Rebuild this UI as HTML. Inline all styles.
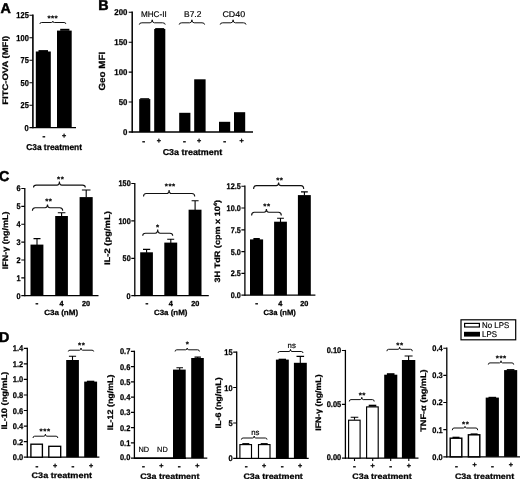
<!DOCTYPE html>
<html><head><meta charset="utf-8"><title>Figure</title>
<style>
html,body{margin:0;padding:0;background:#fff}
svg{display:block;font-family:"Liberation Sans",sans-serif;text-rendering:geometricPrecision}
</style></head><body>
<svg width="520" height="479" viewBox="0 0 520 479">
<rect width="520" height="479" fill="#fff"/>
<text x="0.5" y="12.6" font-size="14.3" font-weight="bold" stroke="#000" stroke-width="0.5">A</text>
<text x="98.3" y="10.3" font-size="14.3" font-weight="bold" stroke="#000" stroke-width="0.5">B</text>
<text x="-1.1" y="181.4" font-size="14.3" font-weight="bold" stroke="#000" stroke-width="0.5">C</text>
<text x="-0.9" y="342.0" font-size="14.3" font-weight="bold" stroke="#000" stroke-width="0.5">D</text>
<path d="M32.9,14.6V128.3" stroke="#000" stroke-width="1.6" fill="none"/>
<path d="M29.4,127.7H76.0" stroke="#000" stroke-width="1.3" fill="none"/>
<text x="28.8" y="130.8" font-size="8.6" text-anchor="end" font-weight="bold" stroke="#000" stroke-width="0.25" textLength="4.2" lengthAdjust="spacingAndGlyphs" fill="#000">0</text>
<text x="28.8" y="108.3" font-size="8.6" text-anchor="end" font-weight="bold" stroke="#000" stroke-width="0.25" textLength="8.3" lengthAdjust="spacingAndGlyphs" fill="#000">25</text>
<text x="28.8" y="85.8" font-size="8.6" text-anchor="end" font-weight="bold" stroke="#000" stroke-width="0.25" textLength="8.3" lengthAdjust="spacingAndGlyphs" fill="#000">50</text>
<text x="28.8" y="63.3" font-size="8.6" text-anchor="end" font-weight="bold" stroke="#000" stroke-width="0.25" textLength="8.3" lengthAdjust="spacingAndGlyphs" fill="#000">75</text>
<text x="28.8" y="40.8" font-size="8.6" text-anchor="end" font-weight="bold" stroke="#000" stroke-width="0.25" textLength="12.5" lengthAdjust="spacingAndGlyphs" fill="#000">100</text>
<text x="28.8" y="18.3" font-size="8.6" text-anchor="end" font-weight="bold" stroke="#000" stroke-width="0.25" textLength="12.5" lengthAdjust="spacingAndGlyphs" fill="#000">125</text>
<path d="M29.4,105.2H32.9M29.4,82.7H32.9M29.4,60.2H32.9M29.4,37.7H32.9M29.4,15.2H32.9" stroke="#000" stroke-width="1.15" fill="none"/>
<rect x="35.8" y="51.5" width="15.0" height="76.2" fill="#000"/>
<rect x="38.5" y="50.1" width="9.5" height="2.0" fill="#000"/>
<rect x="57.0" y="30.6" width="14.7" height="97.1" fill="#000"/>
<rect x="60.2" y="28.8" width="9.2" height="2.0" fill="#000"/>
<path d="M39.9,23.9Q39.9,22.5 41.6,22.5H51.3Q52.8,22.5 52.8,21.2Q52.8,22.5 54.3,22.5H64.1Q65.8,22.5 65.8,23.9" stroke="#111" stroke-width="1.0" fill="none"/>
<text x="52.8" y="20.8" font-size="8" text-anchor="middle" font-weight="bold" letter-spacing="0.35" stroke="#000" stroke-width="0.15">***</text>
<text x="44.0" y="139.2" font-size="8.6" text-anchor="middle" font-weight="bold" stroke="#000" stroke-width="0.3">-</text>
<text x="64.2" y="138.3" font-size="7.2" text-anchor="middle" font-weight="bold" stroke="#000" stroke-width="0.3">+</text>
<text x="54.1" y="149.6" font-size="8.5" text-anchor="middle" font-weight="bold" stroke="#000" stroke-width="0.25" textLength="55.8" lengthAdjust="spacingAndGlyphs" fill="#000">C3a treatment</text>
<text transform="translate(8.1,70.3) rotate(-90)" font-size="8.0" text-anchor="middle" font-weight="bold" stroke="#000" stroke-width="0.25" textLength="69.0" lengthAdjust="spacingAndGlyphs">FITC-OVA (MFI)</text>
<path d="M132.2,11.6V132.7" stroke="#000" stroke-width="1.5" fill="none"/>
<path d="M128.7,132.0H253.0" stroke="#000" stroke-width="1.3" fill="none"/>
<text x="127.4" y="135.0" font-size="8.4" text-anchor="end" font-weight="bold" stroke="#000" stroke-width="0.25" textLength="4.4" lengthAdjust="spacingAndGlyphs" fill="#000">0</text>
<text x="127.4" y="105.1" font-size="8.4" text-anchor="end" font-weight="bold" stroke="#000" stroke-width="0.25" textLength="8.7" lengthAdjust="spacingAndGlyphs" fill="#000">50</text>
<text x="127.4" y="75.1" font-size="8.4" text-anchor="end" font-weight="bold" stroke="#000" stroke-width="0.25" textLength="13.1" lengthAdjust="spacingAndGlyphs" fill="#000">100</text>
<text x="127.4" y="45.2" font-size="8.4" text-anchor="end" font-weight="bold" stroke="#000" stroke-width="0.25" textLength="13.1" lengthAdjust="spacingAndGlyphs" fill="#000">150</text>
<text x="127.4" y="15.2" font-size="8.4" text-anchor="end" font-weight="bold" stroke="#000" stroke-width="0.25" textLength="13.1" lengthAdjust="spacingAndGlyphs" fill="#000">200</text>
<path d="M128.7,102.0H132.2M128.7,72.1H132.2M128.7,42.2H132.2M128.7,12.2H132.2" stroke="#000" stroke-width="1.15" fill="none"/>
<rect x="139.2" y="99.1" width="11.1" height="32.9" fill="#000"/>
<rect x="154.2" y="29.0" width="11.1" height="103.0" fill="#000"/>
<rect x="179.2" y="112.8" width="11.2" height="19.2" fill="#000"/>
<rect x="194.2" y="79.3" width="11.4" height="52.7" fill="#000"/>
<rect x="219.0" y="121.8" width="11.2" height="10.2" fill="#000"/>
<rect x="234.0" y="112.2" width="11.2" height="19.8" fill="#000"/>
<rect x="155.2" y="28.1" width="9.0" height="1.5" fill="#000"/>
<rect x="140.2" y="98.2" width="9.0" height="1.1" fill="#000"/>
<path d="M139.3,24.6Q139.3,22.8 141.9,22.8H150.1Q152.2,22.8 152.2,19.8Q152.2,22.8 154.4,22.8H162.6Q165.2,22.8 165.2,24.6" stroke="#111" stroke-width="1.0" fill="none"/>
<text x="153.8" y="16.9" font-size="8.4" text-anchor="middle" stroke="#000" stroke-width="0.18" textLength="25.7" lengthAdjust="spacingAndGlyphs" fill="#000">MHC-II</text>
<path d="M179.2,24.6Q179.2,22.8 181.8,22.8H189.7Q191.9,22.8 191.9,19.8Q191.9,22.8 194.1,22.8H202.0Q204.6,22.8 204.6,24.6" stroke="#111" stroke-width="1.0" fill="none"/>
<text x="192.7" y="16.9" font-size="8.4" text-anchor="middle" stroke="#000" stroke-width="0.18" textLength="17.3" lengthAdjust="spacingAndGlyphs" fill="#000">B7.2</text>
<path d="M220.2,24.6Q220.2,22.8 222.8,22.8H230.9Q233.1,22.8 233.1,19.8Q233.1,22.8 235.3,22.8H243.4Q246.0,22.8 246.0,24.6" stroke="#111" stroke-width="1.0" fill="none"/>
<text x="233.8" y="16.9" font-size="8.4" text-anchor="middle" stroke="#000" stroke-width="0.18" textLength="22.7" lengthAdjust="spacingAndGlyphs" fill="#000">CD40</text>
<text x="143.8" y="143.5" font-size="8.6" text-anchor="middle" font-weight="bold" stroke="#000" stroke-width="0.3">-</text>
<text x="158.8" y="142.6" font-size="7.2" text-anchor="middle" font-weight="bold" stroke="#000" stroke-width="0.3">+</text>
<text x="184.4" y="143.5" font-size="8.6" text-anchor="middle" font-weight="bold" stroke="#000" stroke-width="0.3">-</text>
<text x="199.0" y="142.6" font-size="7.2" text-anchor="middle" font-weight="bold" stroke="#000" stroke-width="0.3">+</text>
<text x="224.8" y="143.5" font-size="8.6" text-anchor="middle" font-weight="bold" stroke="#000" stroke-width="0.3">-</text>
<text x="241.5" y="142.6" font-size="7.2" text-anchor="middle" font-weight="bold" stroke="#000" stroke-width="0.3">+</text>
<text x="192.4" y="155.0" font-size="8.6" text-anchor="middle" font-weight="bold" stroke="#000" stroke-width="0.25" textLength="59.5" lengthAdjust="spacingAndGlyphs" fill="#000">C3a treatment</text>
<text transform="translate(105.2,71.2) rotate(-90)" font-size="8.9" text-anchor="middle" font-weight="bold" stroke="#000" stroke-width="0.25" textLength="38.7" lengthAdjust="spacingAndGlyphs">Geo MFI</text>
<path d="M24.8,187.9V296.3" stroke="#000" stroke-width="1.3" fill="none"/>
<path d="M21.3,295.7H98.5" stroke="#000" stroke-width="1.3" fill="none"/>
<text x="20.7" y="298.6" font-size="8.2" text-anchor="end" font-weight="bold" stroke="#000" stroke-width="0.25" textLength="4.1" lengthAdjust="spacingAndGlyphs" fill="#000">0</text>
<text x="20.7" y="280.8" font-size="8.2" text-anchor="end" font-weight="bold" stroke="#000" stroke-width="0.25" textLength="4.1" lengthAdjust="spacingAndGlyphs" fill="#000">1</text>
<text x="20.7" y="262.9" font-size="8.2" text-anchor="end" font-weight="bold" stroke="#000" stroke-width="0.25" textLength="4.1" lengthAdjust="spacingAndGlyphs" fill="#000">2</text>
<text x="20.7" y="245.0" font-size="8.2" text-anchor="end" font-weight="bold" stroke="#000" stroke-width="0.25" textLength="4.1" lengthAdjust="spacingAndGlyphs" fill="#000">3</text>
<text x="20.7" y="227.2" font-size="8.2" text-anchor="end" font-weight="bold" stroke="#000" stroke-width="0.25" textLength="4.1" lengthAdjust="spacingAndGlyphs" fill="#000">4</text>
<text x="20.7" y="209.3" font-size="8.2" text-anchor="end" font-weight="bold" stroke="#000" stroke-width="0.25" textLength="4.1" lengthAdjust="spacingAndGlyphs" fill="#000">5</text>
<text x="20.7" y="191.4" font-size="8.2" text-anchor="end" font-weight="bold" stroke="#000" stroke-width="0.25" textLength="4.1" lengthAdjust="spacingAndGlyphs" fill="#000">6</text>
<path d="M21.3,277.8H24.8M21.3,260.0H24.8M21.3,242.1H24.8M21.3,224.2H24.8M21.3,206.4H24.8M21.3,188.5H24.8" stroke="#000" stroke-width="1.15" fill="none"/>
<rect x="30.5" y="244.6" width="12.9" height="51.1" fill="#000"/>
<path d="M37.0,245.1V238.6M33.5,238.6H40.5" stroke="#000" stroke-width="1.1" fill="none"/>
<rect x="55.2" y="216.0" width="12.7" height="79.7" fill="#000"/>
<path d="M61.6,216.5V212.7M57.8,212.7H65.4" stroke="#000" stroke-width="1.1" fill="none"/>
<rect x="79.6" y="197.1" width="13.1" height="98.6" fill="#000"/>
<path d="M86.2,197.6V190.0M81.9,190.0H90.5" stroke="#000" stroke-width="1.1" fill="none"/>
<path d="M33.5,187.4Q33.5,185.1 36.3,185.1H57.0Q59.4,185.1 59.4,181.5Q59.4,185.1 61.8,185.1H82.5Q85.3,185.1 85.3,187.4" stroke="#111" stroke-width="1.1" fill="none"/>
<text x="60.7" y="181.9" font-size="8" text-anchor="middle" font-weight="bold" letter-spacing="0.55" stroke="#000" stroke-width="0.15">**</text>
<path d="M32.4,210.8Q32.4,207.7 35.2,207.7H45.1Q47.5,207.7 47.5,204.6Q47.5,207.7 49.9,207.7H59.9Q62.7,207.7 62.7,210.8" stroke="#111" stroke-width="1.1" fill="none"/>
<text x="48.8" y="204.2" font-size="8" text-anchor="middle" font-weight="bold" letter-spacing="0.55" stroke="#000" stroke-width="0.15">**</text>
<text x="37.0" y="306.1" font-size="8.6" text-anchor="middle" font-weight="bold" stroke="#000" stroke-width="0.3">-</text>
<text x="61.5" y="306.3" font-size="7.3" text-anchor="middle" font-weight="bold" stroke="#000" stroke-width="0.3" fill="#000">4</text>
<text x="86.0" y="306.3" font-size="7.3" text-anchor="middle" font-weight="bold" stroke="#000" stroke-width="0.3" fill="#000">20</text>
<text x="61.2" y="314.8" font-size="7.5" text-anchor="middle" font-weight="bold" stroke="#000" stroke-width="0.25" textLength="34.0" lengthAdjust="spacingAndGlyphs" fill="#000">C3a (nM)</text>
<text transform="translate(7.9,240.4) rotate(-90)" font-size="8.0" text-anchor="middle" font-weight="bold" stroke="#000" stroke-width="0.25" textLength="57.7" lengthAdjust="spacingAndGlyphs">IFN-γ (ng/mL)</text>
<path d="M134.8,182.9V296.3" stroke="#000" stroke-width="1.3" fill="none"/>
<path d="M131.3,295.7H208.8" stroke="#000" stroke-width="1.3" fill="none"/>
<text x="130.7" y="298.6" font-size="8.2" text-anchor="end" font-weight="bold" stroke="#000" stroke-width="0.25" textLength="4.1" lengthAdjust="spacingAndGlyphs" fill="#000">0</text>
<text x="130.7" y="261.2" font-size="8.2" text-anchor="end" font-weight="bold" stroke="#000" stroke-width="0.25" textLength="8.1" lengthAdjust="spacingAndGlyphs" fill="#000">50</text>
<text x="130.7" y="223.8" font-size="8.2" text-anchor="end" font-weight="bold" stroke="#000" stroke-width="0.25" textLength="12.2" lengthAdjust="spacingAndGlyphs" fill="#000">100</text>
<text x="130.7" y="186.4" font-size="8.2" text-anchor="end" font-weight="bold" stroke="#000" stroke-width="0.25" textLength="12.2" lengthAdjust="spacingAndGlyphs" fill="#000">150</text>
<path d="M131.3,258.3H134.8M131.3,220.9H134.8M131.3,183.5H134.8" stroke="#000" stroke-width="1.15" fill="none"/>
<rect x="140.2" y="252.3" width="12.7" height="43.4" fill="#000"/>
<path d="M146.6,252.8V249.4M143.0,249.4H150.2" stroke="#000" stroke-width="1.1" fill="none"/>
<rect x="164.3" y="242.6" width="12.9" height="53.1" fill="#000"/>
<path d="M170.8,243.1V239.2M167.2,239.2H174.2" stroke="#000" stroke-width="1.1" fill="none"/>
<rect x="188.6" y="209.7" width="12.9" height="86.0" fill="#000"/>
<path d="M195.1,210.2V200.8M191.6,200.8H198.6" stroke="#000" stroke-width="1.1" fill="none"/>
<path d="M143.5,196.5Q143.5,193.5 146.3,193.5H166.7Q169.1,193.5 169.1,189.9Q169.1,193.5 171.5,193.5H191.9Q194.7,193.5 194.7,196.5" stroke="#111" stroke-width="1.1" fill="none"/>
<text x="170.3" y="189.2" font-size="8" text-anchor="middle" font-weight="bold" letter-spacing="0.55" stroke="#000" stroke-width="0.15">***</text>
<path d="M142.7,235.8Q142.7,233.2 145.5,233.2H155.3Q157.7,233.2 157.7,229.6Q157.7,233.2 160.1,233.2H169.9Q172.7,233.2 172.7,235.8" stroke="#111" stroke-width="1.1" fill="none"/>
<text x="157.9" y="229.9" font-size="8" text-anchor="middle" font-weight="bold" letter-spacing="0.55" stroke="#000" stroke-width="0.15">*</text>
<text x="147.0" y="306.1" font-size="8.6" text-anchor="middle" font-weight="bold" stroke="#000" stroke-width="0.3">-</text>
<text x="170.9" y="306.3" font-size="7.3" text-anchor="middle" font-weight="bold" stroke="#000" stroke-width="0.3" fill="#000">4</text>
<text x="195.2" y="306.3" font-size="7.3" text-anchor="middle" font-weight="bold" stroke="#000" stroke-width="0.3" fill="#000">20</text>
<text x="170.7" y="314.8" font-size="7.5" text-anchor="middle" font-weight="bold" stroke="#000" stroke-width="0.25" textLength="33.4" lengthAdjust="spacingAndGlyphs" fill="#000">C3a (nM)</text>
<text transform="translate(110.1,238.1) rotate(-90)" font-size="8.0" text-anchor="middle" font-weight="bold" stroke="#000" stroke-width="0.25" textLength="53.9" lengthAdjust="spacingAndGlyphs">IL-2 (pg/mL)</text>
<path d="M244.9,185.6V295.8" stroke="#000" stroke-width="1.3" fill="none"/>
<path d="M241.4,295.2H315.4" stroke="#000" stroke-width="1.3" fill="none"/>
<text x="240.8" y="298.1" font-size="8.2" text-anchor="end" font-weight="bold" stroke="#000" stroke-width="0.25" textLength="10.1" lengthAdjust="spacingAndGlyphs" fill="#000">0.0</text>
<text x="240.8" y="276.3" font-size="8.2" text-anchor="end" font-weight="bold" stroke="#000" stroke-width="0.25" textLength="10.1" lengthAdjust="spacingAndGlyphs" fill="#000">2.5</text>
<text x="240.8" y="254.5" font-size="8.2" text-anchor="end" font-weight="bold" stroke="#000" stroke-width="0.25" textLength="10.1" lengthAdjust="spacingAndGlyphs" fill="#000">5.0</text>
<text x="240.8" y="232.7" font-size="8.2" text-anchor="end" font-weight="bold" stroke="#000" stroke-width="0.25" textLength="10.1" lengthAdjust="spacingAndGlyphs" fill="#000">7.5</text>
<text x="240.8" y="210.9" font-size="8.2" text-anchor="end" font-weight="bold" stroke="#000" stroke-width="0.25" textLength="14.2" lengthAdjust="spacingAndGlyphs" fill="#000">10.0</text>
<text x="240.8" y="189.1" font-size="8.2" text-anchor="end" font-weight="bold" stroke="#000" stroke-width="0.25" textLength="14.2" lengthAdjust="spacingAndGlyphs" fill="#000">12.5</text>
<path d="M241.4,273.4H244.9M241.4,251.6H244.9M241.4,229.8H244.9M241.4,208.0H244.9M241.4,186.2H244.9" stroke="#000" stroke-width="1.15" fill="none"/>
<rect x="250.0" y="239.4" width="13.1" height="55.8" fill="#000"/>
<rect x="253.4" y="238.0" width="6.4" height="2.0" fill="#000"/>
<rect x="274.1" y="221.7" width="12.8" height="73.5" fill="#000"/>
<path d="M280.5,222.2V218.2M277.1,218.2H283.9" stroke="#000" stroke-width="1.1" fill="none"/>
<rect x="297.9" y="195.1" width="12.9" height="100.1" fill="#000"/>
<path d="M304.4,195.6V191.9M301.0,191.9H307.8" stroke="#000" stroke-width="1.1" fill="none"/>
<path d="M253.6,189.1Q253.6,185.6 256.4,185.6H276.2Q278.6,185.6 278.6,182.5Q278.6,185.6 281.0,185.6H300.9Q303.7,185.6 303.7,189.1" stroke="#111" stroke-width="1.1" fill="none"/>
<text x="279.8" y="183.1" font-size="8" text-anchor="middle" font-weight="bold" letter-spacing="0.55" stroke="#000" stroke-width="0.15">**</text>
<path d="M251.6,215.4Q251.6,212.3 254.4,212.3H264.1Q266.4,212.3 266.4,209.1Q266.4,212.3 268.8,212.3H278.5Q281.3,212.3 281.3,215.4" stroke="#111" stroke-width="1.1" fill="none"/>
<text x="267.0" y="209.4" font-size="8" text-anchor="middle" font-weight="bold" letter-spacing="0.55" stroke="#000" stroke-width="0.15">**</text>
<text x="256.6" y="306.1" font-size="8.6" text-anchor="middle" font-weight="bold" stroke="#000" stroke-width="0.3">-</text>
<text x="280.3" y="306.3" font-size="7.3" text-anchor="middle" font-weight="bold" stroke="#000" stroke-width="0.3" fill="#000">4</text>
<text x="304.3" y="306.3" font-size="7.3" text-anchor="middle" font-weight="bold" stroke="#000" stroke-width="0.3" fill="#000">20</text>
<text x="279.7" y="314.8" font-size="7.5" text-anchor="middle" font-weight="bold" stroke="#000" stroke-width="0.25" textLength="32.3" lengthAdjust="spacingAndGlyphs" fill="#000">C3a (nM)</text>
<text transform="translate(220.0,241.2) rotate(-90)" font-size="7.8" text-anchor="middle" font-weight="bold" stroke="#000" stroke-width="0.25" textLength="82.5" lengthAdjust="spacingAndGlyphs">3H TdR (cpm x 10<tspan font-size="5" dy="-2.8">4</tspan><tspan dy="2.8">)</tspan></text>
<path d="M27.3,347.7V457.8" stroke="#000" stroke-width="1.3" fill="none"/>
<path d="M23.8,457.2H99.4" stroke="#000" stroke-width="1.3" fill="none"/>
<text x="23.2" y="460.1" font-size="8.2" text-anchor="end" font-weight="bold" stroke="#000" stroke-width="0.25" textLength="10.4" lengthAdjust="spacingAndGlyphs" fill="#000">0.0</text>
<text x="23.2" y="444.6" font-size="8.2" text-anchor="end" font-weight="bold" stroke="#000" stroke-width="0.25" textLength="10.4" lengthAdjust="spacingAndGlyphs" fill="#000">0.2</text>
<text x="23.2" y="429.0" font-size="8.2" text-anchor="end" font-weight="bold" stroke="#000" stroke-width="0.25" textLength="10.4" lengthAdjust="spacingAndGlyphs" fill="#000">0.4</text>
<text x="23.2" y="413.5" font-size="8.2" text-anchor="end" font-weight="bold" stroke="#000" stroke-width="0.25" textLength="10.4" lengthAdjust="spacingAndGlyphs" fill="#000">0.6</text>
<text x="23.2" y="397.9" font-size="8.2" text-anchor="end" font-weight="bold" stroke="#000" stroke-width="0.25" textLength="10.4" lengthAdjust="spacingAndGlyphs" fill="#000">0.8</text>
<text x="23.2" y="382.3" font-size="8.2" text-anchor="end" font-weight="bold" stroke="#000" stroke-width="0.25" textLength="10.4" lengthAdjust="spacingAndGlyphs" fill="#000">1.0</text>
<text x="23.2" y="366.8" font-size="8.2" text-anchor="end" font-weight="bold" stroke="#000" stroke-width="0.25" textLength="10.4" lengthAdjust="spacingAndGlyphs" fill="#000">1.2</text>
<text x="23.2" y="351.2" font-size="8.2" text-anchor="end" font-weight="bold" stroke="#000" stroke-width="0.25" textLength="10.4" lengthAdjust="spacingAndGlyphs" fill="#000">1.4</text>
<path d="M23.8,441.6H27.3M23.8,426.1H27.3M23.8,410.5H27.3M23.8,395.0H27.3M23.8,379.4H27.3M23.8,363.9H27.3M23.8,348.3H27.3" stroke="#000" stroke-width="1.15" fill="none"/>
<rect x="30.9" y="444.2" width="11.5" height="13.0" fill="#fff" stroke="#000" stroke-width="1.35"/>
<rect x="48.8" y="446.3" width="11.9" height="10.9" fill="#fff" stroke="#000" stroke-width="1.35"/>
<rect x="66.2" y="360.0" width="12.7" height="97.2" fill="#000"/>
<path d="M72.5,361.0V356.2M68.9,356.2H76.1" stroke="#000" stroke-width="1.1" fill="none"/>
<rect x="84.2" y="381.6" width="12.9" height="75.6" fill="#000"/>
<rect x="86.9" y="380.7" width="7.4" height="1.4" fill="#000"/>
<path d="M68.3,351.5Q68.3,350.2 70.0,350.2H79.5Q81.0,350.2 81.0,348.0Q81.0,350.2 82.5,350.2H92.0Q93.7,350.2 93.7,351.5" stroke="#111" stroke-width="1.0" fill="none"/>
<text x="81.7" y="347.9" font-size="8" text-anchor="middle" font-weight="bold" letter-spacing="0.55" stroke="#000" stroke-width="0.15">**</text>
<path d="M33.0,438.0Q33.0,436.2 34.7,436.2H43.9Q45.4,436.2 45.4,434.2Q45.4,436.2 46.9,436.2H56.1Q57.8,436.2 57.8,438.0" stroke="#111" stroke-width="1.0" fill="none"/>
<text x="45.1" y="434.1" font-size="8" text-anchor="middle" font-weight="bold" letter-spacing="0.55" stroke="#000" stroke-width="0.15">***</text>
<text x="37.0" y="468.5" font-size="8.6" text-anchor="middle" font-weight="bold" stroke="#000" stroke-width="0.3">-</text>
<text x="55.0" y="467.6" font-size="7.2" text-anchor="middle" font-weight="bold" stroke="#000" stroke-width="0.3">+</text>
<text x="73.0" y="468.5" font-size="8.6" text-anchor="middle" font-weight="bold" stroke="#000" stroke-width="0.3">-</text>
<text x="91.0" y="467.6" font-size="7.2" text-anchor="middle" font-weight="bold" stroke="#000" stroke-width="0.3">+</text>
<text x="61.8" y="478.2" font-size="8.0" text-anchor="middle" font-weight="bold" stroke="#000" stroke-width="0.25" textLength="60.5" lengthAdjust="spacingAndGlyphs" fill="#000">C3a treatment</text>
<text transform="translate(7.1,400.6) rotate(-90)" font-size="8.0" text-anchor="middle" font-weight="bold" stroke="#000" stroke-width="0.25" textLength="57.9" lengthAdjust="spacingAndGlyphs">IL-10 (ng/mL)</text>
<path d="M134.4,350.7V458.8" stroke="#000" stroke-width="1.3" fill="none"/>
<path d="M130.9,458.1H207.3" stroke="#000" stroke-width="1.3" fill="none"/>
<text x="130.3" y="460.3" font-size="8.2" text-anchor="end" font-weight="bold" stroke="#000" stroke-width="0.25" textLength="10.4" lengthAdjust="spacingAndGlyphs" fill="#000">0.0</text>
<text x="130.3" y="445.8" font-size="8.2" text-anchor="end" font-weight="bold" stroke="#000" stroke-width="0.25" textLength="10.4" lengthAdjust="spacingAndGlyphs" fill="#000">0.1</text>
<text x="130.3" y="430.5" font-size="8.2" text-anchor="end" font-weight="bold" stroke="#000" stroke-width="0.25" textLength="10.4" lengthAdjust="spacingAndGlyphs" fill="#000">0.2</text>
<text x="130.3" y="415.3" font-size="8.2" text-anchor="end" font-weight="bold" stroke="#000" stroke-width="0.25" textLength="10.4" lengthAdjust="spacingAndGlyphs" fill="#000">0.3</text>
<text x="130.3" y="400.0" font-size="8.2" text-anchor="end" font-weight="bold" stroke="#000" stroke-width="0.25" textLength="10.4" lengthAdjust="spacingAndGlyphs" fill="#000">0.4</text>
<text x="130.3" y="384.7" font-size="8.2" text-anchor="end" font-weight="bold" stroke="#000" stroke-width="0.25" textLength="10.4" lengthAdjust="spacingAndGlyphs" fill="#000">0.5</text>
<text x="130.3" y="369.5" font-size="8.2" text-anchor="end" font-weight="bold" stroke="#000" stroke-width="0.25" textLength="10.4" lengthAdjust="spacingAndGlyphs" fill="#000">0.6</text>
<text x="130.3" y="354.2" font-size="8.2" text-anchor="end" font-weight="bold" stroke="#000" stroke-width="0.25" textLength="10.4" lengthAdjust="spacingAndGlyphs" fill="#000">0.7</text>
<path d="M130.9,442.8H134.4M130.9,427.6H134.4M130.9,412.3H134.4M130.9,397.1H134.4M130.9,381.8H134.4M130.9,366.6H134.4M130.9,351.3H134.4" stroke="#000" stroke-width="1.15" fill="none"/>
<path d="M134.4,458.20000000000005H186" stroke="#000" stroke-width="1.5"/>
<rect x="173.0" y="369.6" width="12.7" height="88.5" fill="#000"/>
<path d="M179.7,370.0V367.7M176.4,367.7H183.0" stroke="#000" stroke-width="1.1" fill="none"/>
<rect x="191.2" y="358.0" width="12.6" height="100.1" fill="#000"/>
<path d="M197.7,358.6V357.1M194.5,357.1H200.9" stroke="#000" stroke-width="1.1" fill="none"/>
<path d="M175.1,351.5Q175.1,349.8 176.8,349.8H185.8Q187.2,349.8 187.2,348.0Q187.2,349.8 188.8,349.8H197.7Q199.4,349.8 199.4,351.5" stroke="#111" stroke-width="1.0" fill="none"/>
<text x="187.5" y="347.3" font-size="8" text-anchor="middle" font-weight="bold" letter-spacing="0.55" stroke="#000" stroke-width="0.15">*</text>
<text x="143.8" y="452.3" font-size="7.6" text-anchor="middle" stroke="#000" stroke-width="0.18" textLength="10.6" lengthAdjust="spacingAndGlyphs" fill="#000">ND</text>
<text x="162.4" y="452.3" font-size="7.6" text-anchor="middle" stroke="#000" stroke-width="0.18" textLength="10.6" lengthAdjust="spacingAndGlyphs" fill="#000">ND</text>
<text x="143.4" y="468.5" font-size="8.6" text-anchor="middle" font-weight="bold" stroke="#000" stroke-width="0.3">-</text>
<text x="161.3" y="467.6" font-size="7.2" text-anchor="middle" font-weight="bold" stroke="#000" stroke-width="0.3">+</text>
<text x="179.3" y="468.5" font-size="8.6" text-anchor="middle" font-weight="bold" stroke="#000" stroke-width="0.3">-</text>
<text x="197.3" y="467.6" font-size="7.2" text-anchor="middle" font-weight="bold" stroke="#000" stroke-width="0.3">+</text>
<text x="169.8" y="478.9" font-size="8.0" text-anchor="middle" font-weight="bold" stroke="#000" stroke-width="0.25" textLength="59.2" lengthAdjust="spacingAndGlyphs" fill="#000">C3a treatment</text>
<text transform="translate(113.3,402.4) rotate(-90)" font-size="8.0" text-anchor="middle" font-weight="bold" stroke="#000" stroke-width="0.25" textLength="55.8" lengthAdjust="spacingAndGlyphs">IL-12 (ng/mL)</text>
<path d="M236.7,351.5V459.0" stroke="#000" stroke-width="1.3" fill="none"/>
<path d="M233.2,458.4H308.7" stroke="#000" stroke-width="1.3" fill="none"/>
<text x="232.6" y="460.6" font-size="8.2" text-anchor="end" font-weight="bold" stroke="#000" stroke-width="0.25" textLength="4.2" lengthAdjust="spacingAndGlyphs" fill="#000">0</text>
<text x="232.6" y="425.9" font-size="8.2" text-anchor="end" font-weight="bold" stroke="#000" stroke-width="0.25" textLength="4.2" lengthAdjust="spacingAndGlyphs" fill="#000">5</text>
<text x="232.6" y="390.5" font-size="8.2" text-anchor="end" font-weight="bold" stroke="#000" stroke-width="0.25" textLength="8.3" lengthAdjust="spacingAndGlyphs" fill="#000">10</text>
<text x="232.6" y="355.0" font-size="8.2" text-anchor="end" font-weight="bold" stroke="#000" stroke-width="0.25" textLength="8.3" lengthAdjust="spacingAndGlyphs" fill="#000">15</text>
<path d="M233.2,423.0H236.7M233.2,387.5H236.7M233.2,352.1H236.7" stroke="#000" stroke-width="1.15" fill="none"/>
<rect x="239.9" y="444.6" width="11.6" height="13.8" fill="#fff" stroke="#000" stroke-width="1.15"/>
<rect x="242.3" y="443.1" width="7.0" height="1.4" fill="#000"/>
<rect x="258.5" y="444.6" width="11.5" height="13.8" fill="#fff" stroke="#000" stroke-width="1.15"/>
<rect x="260.7" y="443.1" width="7.0" height="1.4" fill="#000"/>
<rect x="275.9" y="359.6" width="12.9" height="98.8" fill="#000"/>
<rect x="278.6" y="358.7" width="7.4" height="1.4" fill="#000"/>
<rect x="293.9" y="362.8" width="12.9" height="95.6" fill="#000"/>
<path d="M300.3,363.0V356.4M296.5,356.4H304.1" stroke="#000" stroke-width="1.1" fill="none"/>
<path d="M278.0,353.0Q278.0,351.5 279.7,351.5H289.0Q290.5,351.5 290.5,349.4Q290.5,351.5 292.0,351.5H301.3Q303.0,351.5 303.0,353.0" stroke="#111" stroke-width="1.0" fill="none"/>
<text x="291.7" y="348.0" font-size="7.8" text-anchor="middle" stroke="#000" stroke-width="0.18" fill="#000">ns</text>
<path d="M241.4,439.6Q241.4,438.0 243.1,438.0H252.7Q254.2,438.0 254.2,436.0Q254.2,438.0 255.7,438.0H265.3Q267.0,438.0 267.0,439.6" stroke="#111" stroke-width="1.0" fill="none"/>
<text x="255.3" y="434.6" font-size="7.8" text-anchor="middle" stroke="#000" stroke-width="0.18" fill="#000">ns</text>
<text x="246.3" y="468.5" font-size="8.6" text-anchor="middle" font-weight="bold" stroke="#000" stroke-width="0.3">-</text>
<text x="264.2" y="467.6" font-size="7.2" text-anchor="middle" font-weight="bold" stroke="#000" stroke-width="0.3">+</text>
<text x="282.2" y="468.5" font-size="8.6" text-anchor="middle" font-weight="bold" stroke="#000" stroke-width="0.3">-</text>
<text x="300.2" y="467.6" font-size="7.2" text-anchor="middle" font-weight="bold" stroke="#000" stroke-width="0.3">+</text>
<text x="273.1" y="479.3" font-size="8.0" text-anchor="middle" font-weight="bold" stroke="#000" stroke-width="0.25" textLength="59.4" lengthAdjust="spacingAndGlyphs" fill="#000">C3a treatment</text>
<text transform="translate(221.1,402.9) rotate(-90)" font-size="8.0" text-anchor="middle" font-weight="bold" stroke="#000" stroke-width="0.25" textLength="51.1" lengthAdjust="spacingAndGlyphs">IL-6 (ng/mL)</text>
<path d="M345.4,349.9V458.8" stroke="#000" stroke-width="1.3" fill="none"/>
<path d="M341.9,458.1H418.5" stroke="#000" stroke-width="1.3" fill="none"/>
<text x="341.3" y="460.2" font-size="8.2" text-anchor="end" font-weight="bold" stroke="#000" stroke-width="0.25" textLength="14.6" lengthAdjust="spacingAndGlyphs" fill="#000">0.00</text>
<text x="341.3" y="407.2" font-size="8.2" text-anchor="end" font-weight="bold" stroke="#000" stroke-width="0.25" textLength="14.6" lengthAdjust="spacingAndGlyphs" fill="#000">0.05</text>
<text x="341.3" y="353.4" font-size="8.2" text-anchor="end" font-weight="bold" stroke="#000" stroke-width="0.25" textLength="14.6" lengthAdjust="spacingAndGlyphs" fill="#000">0.10</text>
<path d="M341.9,404.3H345.4M341.9,350.5H345.4" stroke="#000" stroke-width="1.15" fill="none"/>
<path d="M354.5,458.1V461M372.7,458.1V461M390.7,458.1V461M408.8,458.1V461" stroke="#000" stroke-width="1.1"/>
<rect x="348.6" y="420.2" width="11.5" height="37.9" fill="#fff" stroke="#000" stroke-width="1.15"/>
<path d="M354.5,419.7V417.2M350.7,417.2H358.3" stroke="#000" stroke-width="1.1" fill="none"/>
<rect x="366.6" y="406.9" width="11.6" height="51.2" fill="#fff" stroke="#000" stroke-width="1.15"/>
<rect x="368.7" y="404.7" width="7.6" height="1.9" fill="#000"/>
<rect x="384.2" y="374.7" width="13.1" height="83.4" fill="#000"/>
<rect x="386.9" y="373.2" width="7.6" height="1.9" fill="#000"/>
<rect x="401.9" y="360.0" width="13.4" height="98.1" fill="#000"/>
<path d="M408.6,360.2V356.0M404.6,356.0H412.6" stroke="#000" stroke-width="1.1" fill="none"/>
<path d="M386.9,351.2Q386.9,349.3 388.6,349.3H398.1Q399.6,349.3 399.6,347.2Q399.6,349.3 401.1,349.3H410.6Q412.3,349.3 412.3,351.2" stroke="#111" stroke-width="1.0" fill="none"/>
<text x="399.9" y="347.6" font-size="8" text-anchor="middle" font-weight="bold" letter-spacing="0.55" stroke="#000" stroke-width="0.15">**</text>
<path d="M349.3,401.5Q349.3,399.6 351.0,399.6H360.2Q361.8,399.6 361.8,397.3Q361.8,399.6 363.2,399.6H372.5Q374.2,399.6 374.2,401.5" stroke="#111" stroke-width="1.0" fill="none"/>
<text x="362.3" y="397.7" font-size="8" text-anchor="middle" font-weight="bold" letter-spacing="0.55" stroke="#000" stroke-width="0.15">**</text>
<text x="354.5" y="468.5" font-size="8.6" text-anchor="middle" font-weight="bold" stroke="#000" stroke-width="0.3">-</text>
<text x="372.7" y="467.6" font-size="7.2" text-anchor="middle" font-weight="bold" stroke="#000" stroke-width="0.3">+</text>
<text x="390.7" y="468.5" font-size="8.6" text-anchor="middle" font-weight="bold" stroke="#000" stroke-width="0.3">-</text>
<text x="408.8" y="467.6" font-size="7.2" text-anchor="middle" font-weight="bold" stroke="#000" stroke-width="0.3">+</text>
<text x="382.0" y="478.8" font-size="8.0" text-anchor="middle" font-weight="bold" stroke="#000" stroke-width="0.25" textLength="59.3" lengthAdjust="spacingAndGlyphs" fill="#000">C3a treatment</text>
<text transform="translate(320.5,402.6) rotate(-90)" font-size="8.0" text-anchor="middle" font-weight="bold" stroke="#000" stroke-width="0.25" textLength="56.3" lengthAdjust="spacingAndGlyphs">IFN-γ (ng/mL)</text>
<path d="M446.8,347.6V457.4" stroke="#000" stroke-width="1.3" fill="none"/>
<path d="M443.3,456.8H520.0" stroke="#000" stroke-width="1.3" fill="none"/>
<text x="442.7" y="459.7" font-size="8.2" text-anchor="end" font-weight="bold" stroke="#000" stroke-width="0.25" textLength="10.4" lengthAdjust="spacingAndGlyphs" fill="#000">0.0</text>
<text x="442.7" y="432.6" font-size="8.2" text-anchor="end" font-weight="bold" stroke="#000" stroke-width="0.25" textLength="10.4" lengthAdjust="spacingAndGlyphs" fill="#000">0.1</text>
<text x="442.7" y="405.4" font-size="8.2" text-anchor="end" font-weight="bold" stroke="#000" stroke-width="0.25" textLength="10.4" lengthAdjust="spacingAndGlyphs" fill="#000">0.2</text>
<text x="442.7" y="378.3" font-size="8.2" text-anchor="end" font-weight="bold" stroke="#000" stroke-width="0.25" textLength="10.4" lengthAdjust="spacingAndGlyphs" fill="#000">0.3</text>
<text x="442.7" y="351.1" font-size="8.2" text-anchor="end" font-weight="bold" stroke="#000" stroke-width="0.25" textLength="10.4" lengthAdjust="spacingAndGlyphs" fill="#000">0.4</text>
<path d="M443.3,429.6H446.8M443.3,402.5H446.8M443.3,375.4H446.8M443.3,348.2H446.8" stroke="#000" stroke-width="1.15" fill="none"/>
<rect x="450.2" y="438.2" width="11.6" height="18.6" fill="#fff" stroke="#000" stroke-width="1.45"/>
<rect x="452.5" y="436.7" width="7.0" height="1.4" fill="#000"/>
<rect x="468.4" y="434.8" width="11.4" height="22.0" fill="#fff" stroke="#000" stroke-width="1.45"/>
<rect x="470.6" y="433.4" width="7.0" height="1.5" fill="#000"/>
<rect x="485.7" y="397.6" width="13.2" height="59.2" fill="#000"/>
<rect x="488.5" y="396.8" width="7.6" height="1.3" fill="#000"/>
<rect x="504.1" y="370.1" width="13.1" height="86.7" fill="#000"/>
<rect x="506.8" y="369.1" width="7.6" height="1.5" fill="#000"/>
<path d="M488.3,364.6Q488.3,362.9 490.0,362.9H499.5Q501.0,362.9 501.0,360.8Q501.0,362.9 502.5,362.9H512.0Q513.7,362.9 513.7,364.6" stroke="#111" stroke-width="1.0" fill="none"/>
<text x="501.3" y="361.1" font-size="8" text-anchor="middle" font-weight="bold" letter-spacing="0.55" stroke="#000" stroke-width="0.15">***</text>
<path d="M452.3,430.2Q452.3,428.0 454.0,428.0H463.5Q465.0,428.0 465.0,426.4Q465.0,428.0 466.5,428.0H476.0Q477.7,428.0 477.7,430.2" stroke="#111" stroke-width="1.0" fill="none"/>
<text x="465.7" y="426.6" font-size="8" text-anchor="middle" font-weight="bold" letter-spacing="0.55" stroke="#000" stroke-width="0.15">**</text>
<text x="456.5" y="468.5" font-size="8.6" text-anchor="middle" font-weight="bold" stroke="#000" stroke-width="0.3">-</text>
<text x="474.5" y="467.0" font-size="7.2" text-anchor="middle" font-weight="bold" stroke="#000" stroke-width="0.3">+</text>
<text x="492.5" y="468.5" font-size="8.6" text-anchor="middle" font-weight="bold" stroke="#000" stroke-width="0.3">-</text>
<text x="510.9" y="467.0" font-size="7.2" text-anchor="middle" font-weight="bold" stroke="#000" stroke-width="0.3">+</text>
<text x="484.5" y="478.5" font-size="8.0" text-anchor="middle" font-weight="bold" stroke="#000" stroke-width="0.25" textLength="59.2" lengthAdjust="spacingAndGlyphs" fill="#000">C3a treatment</text>
<text transform="translate(426.2,400.6) rotate(-90)" font-size="8.0" text-anchor="middle" font-weight="bold" stroke="#000" stroke-width="0.25" textLength="62.3" lengthAdjust="spacingAndGlyphs">TNF-α (ng/mL)</text>
<rect x="461" y="319.8" width="54.7" height="20" fill="#fff" stroke="#000" stroke-width="1.2"/>
<rect x="464.6" y="323.4" width="14.8" height="3.6" fill="#fff" stroke="#000" stroke-width="1.2"/>
<rect x="464" y="331.8" width="16" height="4.8" fill="#000"/>
<text x="482.0" y="328.0" font-size="8.3" text-anchor="start" stroke="#000" stroke-width="0.18" textLength="27.2" lengthAdjust="spacingAndGlyphs" fill="#000">No LPS</text>
<text x="482.0" y="336.9" font-size="8.3" text-anchor="start" stroke="#000" stroke-width="0.18" textLength="14.9" lengthAdjust="spacingAndGlyphs" fill="#000">LPS</text>
</svg>
</body></html>
